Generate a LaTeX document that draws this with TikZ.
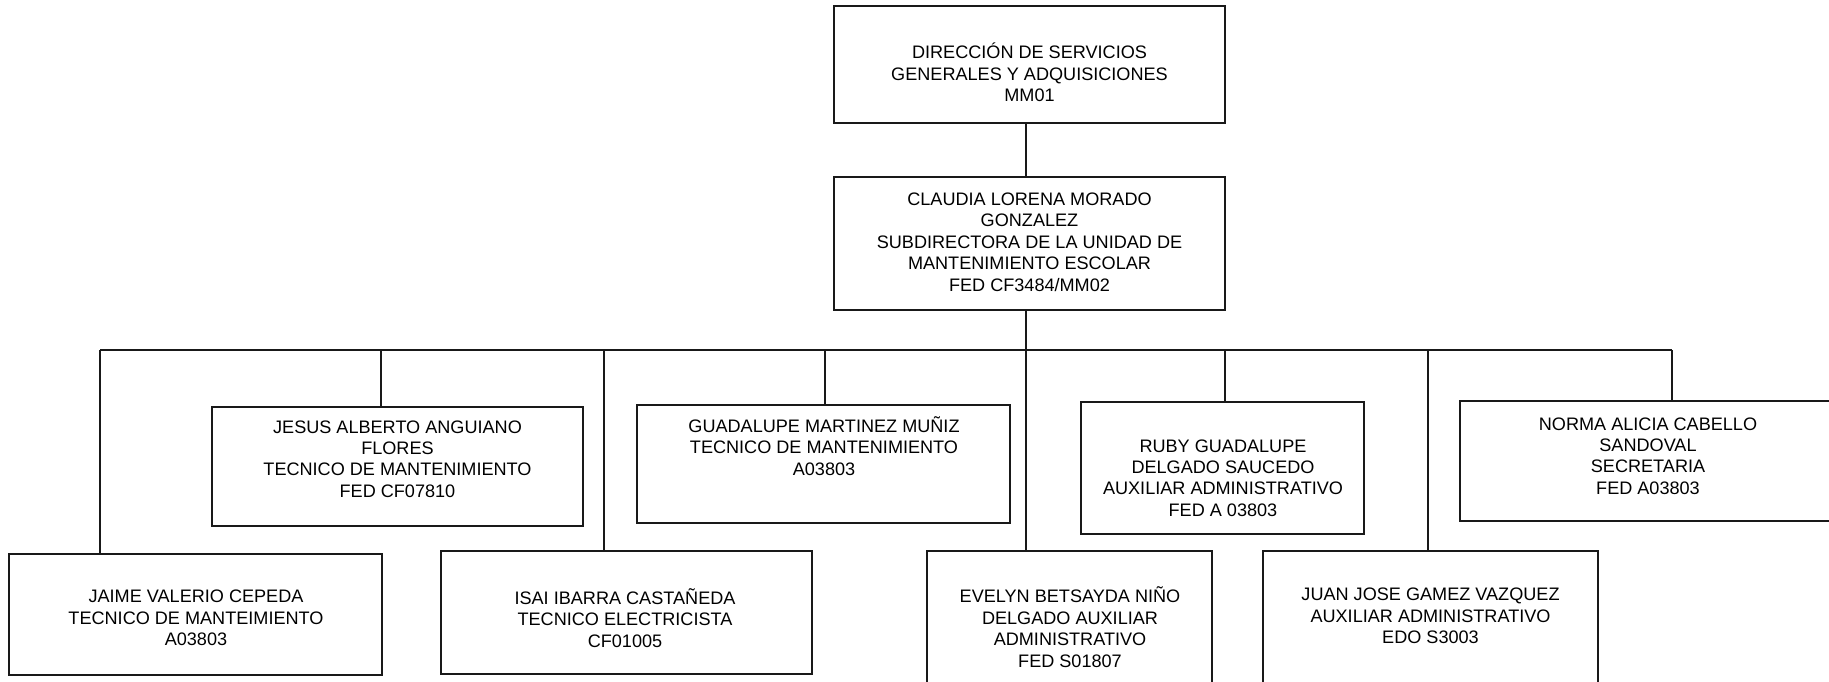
\documentclass[tikz,border=0pt]{standalone}
\usepackage{fontspec}
\setmainfont{Liberation Sans}
\definecolor{lineablack}{RGB}{25, 25, 25}
\usetikzlibrary{positioning, calc}
\tikzset{
  puesto/.style={draw=lineablack, line width=0.8pt, rectangle, inner sep=0pt},
  rotulo/.style={align=center, inner sep=0pt, font=\fontsize{10.3}{12.2}\selectfont},
  enlace/.style={draw=lineablack, line width=0.8pt}
}

\begin{document}
\begin{tikzpicture}[x=0.02cm, y=-0.02cm]
                    \clip (0,0) rectangle (1829,682);
                    \node[puesto, minimum width=7.82cm, minimum height=2.34cm] (direccion) at (1029.5,64.5) {};
                    \node[puesto, minimum width=7.82cm, minimum height=2.66cm] (subdireccion) at (1029.5,243.5) {};
                    \node[puesto, minimum width=7.42cm, minimum height=2.38cm] (jesus) at (397.5,466.5) {};
                    \node[puesto, minimum width=7.46cm, minimum height=2.36cm] (guad) at (823.5,464) {};
                    \node[puesto, minimum width=5.66cm, minimum height=2.64cm] (ruby) at (1222.5,468) {};
                    \node[puesto, minimum width=7.52cm, minimum height=2.40cm] (norma) at (1648,461) {};
                    \node[puesto, minimum width=7.46cm, minimum height=2.42cm] (jaime) at (195.5,614.5) {};
                    \node[puesto, minimum width=7.42cm, minimum height=2.46cm] (isai) at (626.5,612.5) {};
                    \node[puesto, minimum width=5.70cm, minimum height=2.98cm] (evelyn) at (1069.5,625.5) {};
                    \node[puesto, minimum width=6.70cm, minimum height=2.98cm] (juan) at (1430.5,625.5) {};
                    \node[rotulo] (t-direccion) at (1029.5,72.5) {DIRECCIÓN DE SERVICIOS\\GENERALES Y ADQUISICIONES\\MM01};
                    \node[rotulo] (t-subdireccion) at (1029.5,242) {CLAUDIA LORENA MORADO\\GONZALEZ\\SUBDIRECTORA DE LA UNIDAD DE\\MANTENIMIENTO ESCOLAR\\FED CF3484/MM02};
                    \node[rotulo] (t-jesus) at (397.5,459) {JESUS ALBERTO ANGUIANO\\FLORES\\TECNICO DE MANTENIMIENTO\\FED CF07810};
                    \node[rotulo] (t-guad) at (824,446) {GUADALUPE MARTINEZ MUÑIZ\\TECNICO DE MANTENIMIENTO\\A03803};
                    \node[rotulo] (t-ruby) at (1223,478) {RUBY GUADALUPE\\DELGADO SAUCEDO\\AUXILIAR ADMINISTRATIVO\\FED A 03803};
                    \node[rotulo] (t-norma) at (1648,456) {NORMA ALICIA CABELLO\\SANDOVAL\\SECRETARIA\\FED A03803};
                    \node[rotulo] (t-jaime) at (196,618) {JAIME VALERIO CEPEDA\\TECNICO DE MANTEIMIENTO\\A03803};
                    \node[rotulo] (t-isai) at (625,618) {ISAI IBARRA CASTAÑEDA\\TECNICO ELECTRICISTA\\CF01005};
                    \node[rotulo] (t-evelyn) at (1070,627) {EVELYN BETSAYDA NIÑO\\DELGADO AUXILIAR\\ADMINISTRATIVO\\FED S01807};
                    \node[rotulo] (t-juan) at (1430.5,616) {JUAN JOSE GAMEZ VAZQUEZ\\AUXILIAR ADMINISTRATIVO\\EDO S3003};
                    \foreach \x/\b in {100/jaime, 381/jesus, 604/isai, 825/guad, 1026/evelyn, 1225/ruby, 1428/juan, 1672/norma}
                      \coordinate (bus-\b) at (\x,350);
                    \draw[enlace] (direccion.south -| bus-evelyn) -- (subdireccion.north -| bus-evelyn);
                    \draw[enlace] (subdireccion.south -| bus-evelyn) -- (bus-evelyn);
                    \draw[enlace] (bus-jaime) -- (bus-norma);
                    \foreach \b in {jaime, jesus, isai, guad, evelyn, ruby, juan, norma}
                      \draw[enlace] (bus-\b) -- (bus-\b |- \b.north);
                \end{tikzpicture}
\end{document}
